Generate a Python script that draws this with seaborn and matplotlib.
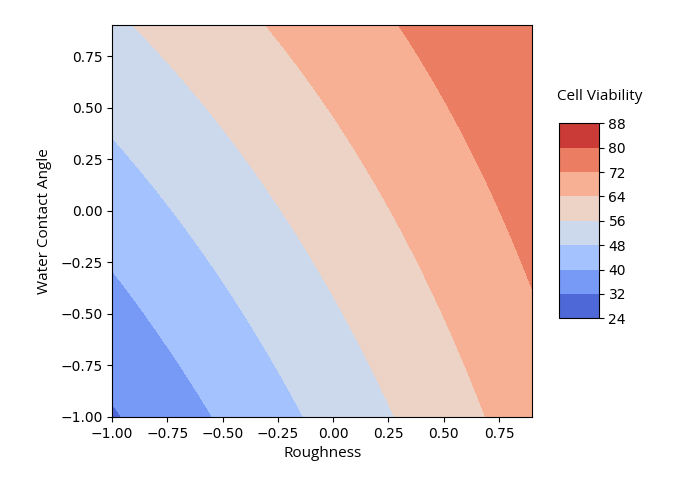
import numpy as np
import pandas as pd
import seaborn as sns
import matplotlib
matplotlib.use("Agg")
import matplotlib.pyplot as plt

# Response-surface model
roughness_grid = np.round(np.arange(-1.0, 1.0, 0.1), 2)
wca_grid = np.round(np.arange(-1.0, 1.0, 0.1), 2)
intercept = 59.8
coef_roughness = 16.2
coef_wca = 9.18
coef_interaction = -3.22
levels = [24, 32, 40, 48, 56, 64, 72, 80, 88]

X, Y = np.meshgrid(roughness_grid, wca_grid)
Z = intercept + coef_roughness * X + coef_wca * Y + coef_interaction * X * Y

sns.set_style("ticks", {"axes.edgecolor": "black", "xtick.color": "black",
                        "ytick.color": "black", "text.color": "black",
                        "axes.labelcolor": "black"})
plt.rcParams["font.family"] = ["DejaVu Sans"]

fig = plt.figure(figsize=(6.76, 4.83), dpi=100)
ax = fig.add_axes([0.166, 0.137, 0.6212, 0.811])
cmap = sns.color_palette("coolwarm", as_cmap=True)
cs = ax.contourf(X, Y, Z, levels=levels, cmap=cmap)
ax.set_xticks([-1.0, -0.75, -0.5, -0.25, 0.0, 0.25, 0.5, 0.75])
ax.set_yticks([-1.0, -0.75, -0.5, -0.25, 0.0, 0.25, 0.5, 0.75])
ax.set_xlabel("Roughness", fontfamily="Open Sans", fontsize=11)
ax.set_ylabel("Water Contact Angle", fontfamily="Open Sans", fontsize=11, labelpad=6)

cax = fig.add_axes([0.8274, 0.341, 0.0583, 0.4037])
cbar = fig.colorbar(cs, cax=cax)
cbar.set_ticks(levels)
fig.text(600 / 676, 1 - 96.5 / 483, "Cell Viability", ha="center", va="center",
         fontfamily="Open Sans", fontsize=11)

fig.savefig("out.png", dpi=100)
